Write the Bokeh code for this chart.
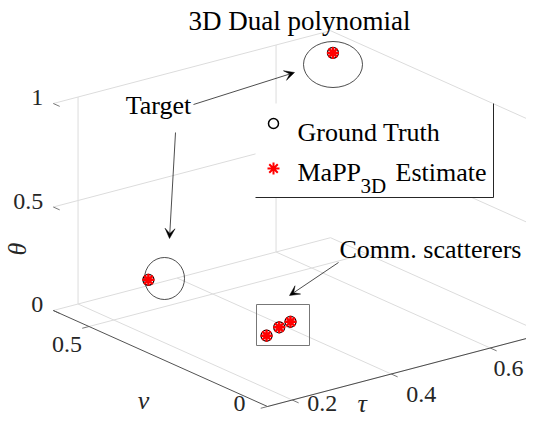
import numpy as np
from bokeh.plotting import figure
from bokeh.models import Range1d, ColumnDataSource, Arrow, VeeHead
from bokeh.core.properties import value
from bokeh.embed import file_html
from bokeh.resources import INLINE

# ---------------- data ----------------
tau_gt = [0.65, 0.27, 0.35, 0.39, 0.42]
nu_gt = [0.51, 0.50, 0.28, 0.30, 0.31]
theta_gt = [1.00, 0.15, 0.00, 0.00, 0.00]

tau_est = [0.65, 0.27, 0.35, 0.39, 0.42]
nu_est = [0.51, 0.50, 0.28, 0.30, 0.31]
theta_est = [1.00, 0.15, 0.00, 0.00, 0.00]

tau_ticks = [0.2, 0.4, 0.6]
nu_ticks = [0.0, 0.5]
theta_ticks = [0.0, 0.5, 1.0]
tau_tick_labels = ["0.2", "0.4", "0.6"]
nu_tick_labels = ["0", "0.5"]
theta_tick_labels = ["0", "0.5", "1"]
tau_wall_grid = [0.2, 0.6]          # vertical grid lines visible on the back wall

tau_lim = (0.15, 0.71)
nu_lim = (0.0, 0.6)
theta_lim = (0.0, 1.0)

title_text = "3D Dual polynomial"
legend_labels = ["Ground Truth", "MaPP", "3D", "Estimate"]
annot_target = "Target"
annot_scatter = "Comm. scatterers"

# ---------------- orthographic view (pixels per data unit) ----------------
ORIGIN = (267.0, 406.0)          # (tau_min, nu=0, theta=0)
TV = (495.0, -130.0)             # per unit tau
NV = (-357.0, -160.0)            # per unit nu
ZV = (0.0, -207.0)               # per unit theta


def proj(t, n, z):
    t = np.asarray(t, dtype=float) - tau_lim[0]
    n = np.asarray(n, dtype=float)
    z = np.asarray(z, dtype=float)
    x = ORIGIN[0] + t * TV[0] + n * NV[0] + z * ZV[0]
    y = ORIGIN[1] + t * TV[1] + n * NV[1] + z * ZV[1]
    return x, y


W, H = 526, 418
p = figure(width=W, height=H, output_backend="svg", toolbar_location=None,
           x_range=Range1d(0, W), y_range=Range1d(H, 0),
           x_axis_location=None, y_axis_location=None, min_border=0,
           background_fill_color="white", border_fill_color="white")
p.grid.visible = False
p.outline_line_color = None

SERIF = value("Liberation Serif")

# ---------------- grid on back planes ----------------
gx, gy = [], []


def seg(a, b):
    x0, y0 = proj(*a)
    x1, y1 = proj(*b)
    gx.append([float(x0), float(x1)])
    gy.append([float(y0), float(y1)])


t0, t1 = tau_lim
n0, n1 = nu_lim
z0, z1 = theta_lim
for t in tau_ticks:                      # floor
    seg((t, n0, z0), (t, n1, z0))
for n in nu_ticks:
    seg((t0, n, z0), (t1, n, z0))
for t in tau_wall_grid:                  # back wall nu = max
    seg((t, n1, z0), (t, n1, z1))
for z in theta_ticks:
    seg((t0, n1, z), (t1, n1, z))
for z in theta_ticks:                    # right wall tau = max
    seg((t1, n0, z), (t1, n1, z))
p.multi_line(gx, gy, line_color="#dcdcdc", line_width=1)

# ---------------- axis lines ----------------
ax, ay = proj([t0, t1], [n0, n0], [z0, z0])
p.line(ax, ay, line_color="#262626", line_width=0.8)
ax, ay = proj([t0, t0], [n0, n1], [z0, z0])
p.line(ax, ay, line_color="#262626", line_width=0.8)

# tick marks
tkx, tky = [], []
L = 7.0
nvn = np.array(NV) / np.hypot(*NV)
tvn = np.array(TV) / np.hypot(*TV)
for t in tau_ticks:
    x, y = proj(t, n0, z0)
    tkx.append([float(x), float(x - L * nvn[0])]); tky.append([float(y), float(y - L * nvn[1])])
for n in nu_ticks:
    x, y = proj(t0, n, z0)
    tkx.append([float(x), float(x - L * tvn[0])]); tky.append([float(y), float(y - L * tvn[1])])
for z in theta_ticks:
    x, y = proj(t0, n1, z)
    tkx.append([float(x), float(x - L * nvn[0])]); tky.append([float(y), float(y - L * nvn[1])])
p.multi_line(tkx, tky, line_color="#555555", line_width=0.8)

# tick labels (kept inside the frame)
x, y = proj(tau_ticks, [n0] * 3, [z0] * 3)
tx = np.minimum(x + 30, W - 18)
ty = np.minimum(y + 20, H - 15)
p.text(tx, ty, text=tau_tick_labels, text_font=SERIF, text_font_size="24px",
       text_align=value("center"), text_baseline=value("middle"), text_color="#262626")
x, y = proj([t0] * 2, nu_ticks, [z0] * 2)
nx = np.where(y + 18 > H - 15, x - 28, x - 22)
ny = np.minimum(y + 18, H - 15)
p.text(nx, ny, text=nu_tick_labels, text_font=SERIF, text_font_size="24px",
       text_align=value("center"), text_baseline=value("middle"), text_color="#262626")
x, y = proj([t0] * 3, [n1] * 3, theta_ticks)
p.text(x - 10, y - 6, text=theta_tick_labels, text_font=SERIF, text_font_size="24px",
       text_align=value("right"), text_baseline=value("middle"), text_color="#262626")

# axis labels
x, y = proj((t0 + t1) / 2, n0, z0)
p.text([float(x) - 44], [float(y) + 33], text=["τ"], text_font=SERIF, text_font_size="26px",
       text_font_style=value("italic"), text_align=value("center"), text_baseline=value("middle"),
       text_color="#262626")
x, y = proj(t0, (n0 + n1) / 2, z0)
p.text([float(x) - 17], [float(y) + 42], text=["ν"], text_font=SERIF, text_font_size="26px",
       text_font_style=value("italic"), text_align=value("center"), text_baseline=value("middle"),
       text_color="#262626")
x, y = proj(t0, n1, (z0 + z1) / 2)
p.text([17.0], [float(y) + 42], text=["θ"], text_font=SERIF, text_font_size="26px",
       text_font_style=value("italic"), text_align=value("center"), text_baseline=value("middle"),
       angle=np.pi / 2, text_color="#262626")

# ---------------- annotations (figure-level, pixels) ----------------
p.ellipse(x=[332.5, 164.0], y=[64.0, 278.0], width=[59.0, 40.0], height=[46.0, 42.0],
          fill_color=None, line_color="black", line_width=0.7)
p.quad(left=[256], right=[309], top=[304], bottom=[345], fill_color=None,
       line_color="#777777", line_width=1)

# ---------------- data markers ----------------
gx_, gy_ = proj(tau_gt, nu_gt, theta_gt)
ex_, ey_ = proj(tau_est, nu_est, theta_est)
p.scatter(gx_, gy_, marker="circle", size=11, fill_color=None, line_color="black", line_width=1.2)
p.scatter(ex_, ey_, marker="asterisk", size=12, line_color="red", line_width=2.5)

# ---------------- legend ----------------
p.quad(left=[255], right=[493], top=[103], bottom=[197], fill_color="white", line_color=None)
p.line([255, 493, 493], [197, 197, 103], line_color="#262626", line_width=1)
p.scatter([273], [123], marker="circle", size=10, fill_color=None, line_color="black", line_width=1.5)
p.scatter([273], [168], marker="asterisk", size=12, line_color="red", line_width=2)
p.text([297], [132], text=[legend_labels[0]], text_font=SERIF, text_font_size="26px",
       text_align=value("left"), text_baseline=value("alphabetic"), text_color="black")
p.text([297], [172], text=[legend_labels[1]], text_font=SERIF, text_font_size="26px",
       text_align=value("left"), text_baseline=value("alphabetic"), text_color="black")
p.text([360], [185], text=[legend_labels[2]], text_font=SERIF, text_font_size="21px",
       text_align=value("left"), text_baseline=value("alphabetic"), text_color="black")
p.text([395], [172], text=[legend_labels[3]], text_font=SERIF, text_font_size="26px",
       text_align=value("left"), text_baseline=value("alphabetic"), text_color="black")

# ---------------- text annotations and arrows ----------------
p.text([158], [105], text=[annot_target], text_font=SERIF, text_font_size="26px",
       text_align=value("center"), text_baseline=value("middle"), text_color="black")
p.text([430], [249], text=[annot_scatter], text_font=SERIF, text_font_size="26px",
       text_align=value("center"), text_baseline=value("middle"), text_color="black")
arrows = ColumnDataSource(dict(x_start=[193, 175, 338], y_start=[104, 132, 262],
                               x_end=[294, 169, 289], y_end=[72, 238, 295]))
p.add_layout(Arrow(source=arrows, x_start="x_start", y_start="y_start", x_end="x_end", y_end="y_end",
                   line_color="black", line_width=0.7,
                   end=VeeHead(size=10, fill_color="black", line_color="black", line_width=0.5)))

# title
p.text([299], [20], text=[title_text], text_font=SERIF, text_font_size="27px",
       text_align=value("center"), text_baseline=value("alphabetic"), text_color="black")

open("out.html", "w").write(file_html(p, INLINE))
